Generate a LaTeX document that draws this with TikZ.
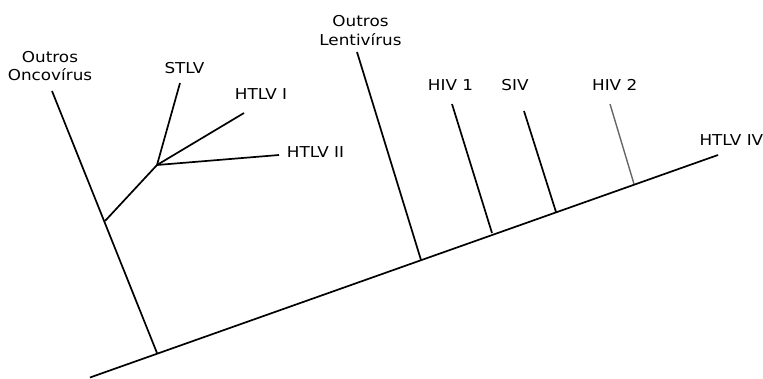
\documentclass[tikz,border=0pt]{standalone}
\usepackage{fontspec}
\setmainfont[FakeStretch=1.12]{DejaVu Sans}
\begin{document}
\begin{tikzpicture}[x=1pt,y=-1pt,
  lbl/.style={inner sep=0pt, anchor=base, align=center, font=\fontsize{15}{18.3}\selectfont},
  lblw/.style={lbl, anchor=base west},
  branch/.style={line width=1.7pt, black},
  graybranch/.style={line width=1.4pt, black!60}]
\useasboundingbox[fill=white] (0,0) rectangle (763,378);
% coordinates
\coordinate (root) at (90,377.5);
\coordinate (tipIV) at (718,155);
\coordinate (jOnco) at (157,353);
\coordinate (jLenti) at (421,260);
\coordinate (jHIV1) at (492,233);
\coordinate (jSIV) at (556,212);
\coordinate (jHIV2) at (634,184);
\coordinate (tOnco) at (52,91);
\coordinate (jHTLV) at (105,221);
\coordinate (nHTLV) at (157,165);
\coordinate (tSTLV) at (180,83);
\coordinate (tI) at (244,113);
\coordinate (tII) at (279,155);
\coordinate (tLenti) at (357,52);
\coordinate (tHIV1) at (452,104);
\coordinate (tSIV) at (524,111);
\coordinate (tHIV2) at (610,104);
% labels
\node[lbl] (lOnco) at (50,80.7) {Outros\\Oncovírus};
\node[lbl] (lSTLV) at (184.5,73.3) {STLV};
\node[lbl] (lI) at (261,99.3) {HTLV I};
\node[lblw] (lII) at (286.7,157.3) {HTLV II};
\node[lbl] (lLenti) at (360.5,45) {Outros\\Lentivírus};
\node[lbl] (lHIV1) at (450.5,90) {HIV 1};
\node[lbl] (lSIV) at (515,90) {SIV};
\node[lbl] (lHIV2) at (614.7,90) {HIV 2};
\node[lblw] (lIV) at (699.3,145.7) {HTLV IV};
% branches
\draw[branch] (root) -- (tipIV);
\draw[branch] (jOnco) -- (tOnco);
\draw[branch] (jHTLV) -- (nHTLV);
\draw[branch] (nHTLV) -- (tSTLV);
\draw[branch] (nHTLV) -- (tI);
\draw[branch] (nHTLV) -- (tII);
\draw[branch] (jLenti) -- (tLenti);
\draw[branch] (jHIV1) -- (tHIV1);
\draw[branch] (jSIV) -- (tSIV);
\draw[graybranch] (jHIV2) -- (tHIV2);
\end{tikzpicture}
\end{document}
